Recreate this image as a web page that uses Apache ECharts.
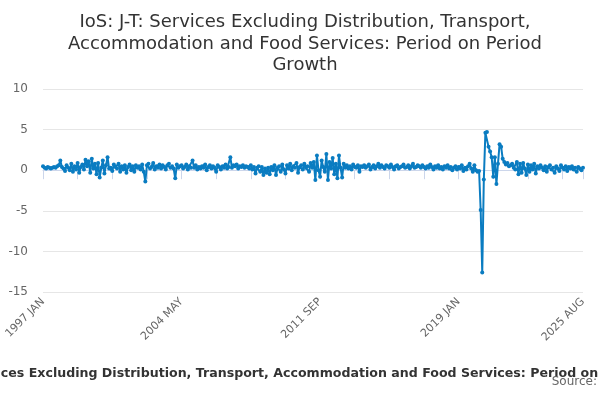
<!DOCTYPE html>
<html>
<head>
<meta charset="utf-8">
<script src="https://cdn.jsdelivr.net/npm/echarts@6/dist/echarts.min.js"></script>
<style>
  html, body { margin: 0; padding: 0; background: #fff; }
  #chart { width: 600px; height: 400px; }
</style>
</head>
<body>
<div id="chart"></div>
<script>
// 数据
var titleText = 'IoS: J-T: Services Excluding Distribution, Transport, Accommodation and Food Services: Period on Period Growth';
var years = [1997, 1998, 1999, 2000, 2001, 2002, 2003, 2004, 2005, 2006, 2007, 2008, 2009, 2010,
             2011, 2012, 2013, 2014, 2015, 2016, 2017, 2018, 2019, 2020, 2021, 2022, 2023, 2024, 2025];
var months = ['JAN', 'FEB', 'MAR', 'APR', 'MAY', 'JUN', 'JUL', 'AUG', 'SEP', 'OCT', 'NOV', 'DEC'];
var lastMonthCount = 8; // 2025 runs to AUG
var yTicks = [-15, -10, -5, 0, 5, 10];

var growth = [
  0.5, 0.3, 0.2, 0.4, 0.3, 0.2, 0.3, 0.4, 0.3, 0.5, 0.6, 1.2,       // 1997
  0.4, 0.2, -0.1, 0.6, 0.3, 0.0, 0.8, -0.2, 0.5, 0.1, 0.9, -0.3,    // 1998
  0.4, 0.7, 0.1, 1.3, 0.5, 1.1, -0.3, 1.4, 0.2, 0.8, -0.5, 0.9,     // 1999
  -0.9, 0.3, 1.2, -0.4, 0.6, 1.6, 0.2, 0.3, -0.1, 0.7, 0.4, 0.2,    // 2000
  0.8, -0.2, 0.5, 0.1, 0.6, -0.3, 0.4, 0.7, 0.0, 0.5, -0.2, 0.6,    // 2001
  0.3, 0.5, 0.1, 0.7, -0.2, -1.4, 0.6, 0.8, 0.2, 0.4, 0.9, 0.1,     // 2002
  0.5, 0.3, 0.7, 0.2, 0.6, 0.4, 0.1, 0.6, 0.8, 0.3, 0.5, 0.2,       // 2003
  -1.0, 0.7, 0.3, 0.5, 0.6, 0.2, 0.4, 0.7, 0.1, 0.5, 0.3, 1.2,      // 2004
  0.3, 0.6, 0.1, 0.4, 0.2, 0.5, 0.3, 0.7, 0.0, 0.4, 0.6, 0.2,       // 2005
  0.5, 0.3, -0.2, 0.6, 0.4, 0.1, 0.5, 0.3, 0.7, 0.2, 0.4, 1.6,      // 2006
  0.3, 0.6, 0.5, 0.7, 0.2, 0.5, 0.4, 0.6, 0.3, 0.5, 0.4, 0.2,       // 2007
  0.6, 0.1, 0.4, -0.4, 0.3, 0.5, -0.2, 0.4, -0.6, 0.2, -0.3, 0.3,   // 2008
  -0.5, 0.4, 0.0, 0.6, -0.6, 0.3, 0.5, -0.2, 0.7, 0.1, -0.4, 0.6,   // 2009
  0.2, 0.8, 0.0, 0.5, 0.3, 0.9, -0.3, 0.4, 0.6, 0.1, 0.8, 0.3,      // 2010
  0.5, -0.2, 0.9, 0.3, 1.0, -1.2, 1.8, 0.0, -0.8, 1.2, 0.4, -0.2,   // 2011
  2.0, -1.2, 1.0, 0.2, 1.5, -0.5, 0.8, -1.0, 1.8, 0.3, -0.9, 0.8,   // 2012
  0.3, 0.6, 0.2, 0.5, 0.1, 0.7, 0.4, 0.3, 0.6, -0.2, 0.5, 0.4,      // 2013
  0.6, 0.3, 0.5, 0.7, 0.1, 0.4, 0.6, 0.2, 0.5, 0.8, 0.3, 0.6,       // 2014
  0.4, 0.2, 0.6, 0.5, 0.3, 0.7, 0.4, 0.1, 0.5, 0.6, 0.2, 0.4,       // 2015
  0.5, 0.7, 0.3, 0.4, 0.6, 0.2, 0.5, 0.8, 0.3, 0.4, 0.6, 0.5,       // 2016
  0.3, 0.6, 0.4, 0.2, 0.5, 0.3, 0.7, 0.4, 0.1, 0.5, 0.3, 0.6,       // 2017
  0.2, 0.4, 0.1, 0.5, 0.3, 0.6, 0.2, 0.4, 0.0, 0.3, 0.5, 0.1,       // 2018
  0.4, 0.2, 0.6, -0.1, 0.3, 0.1, 0.5, 0.8, 0.2, -0.2, 0.6, 0.0,     // 2019
  -0.2, -0.1, -4.9, -12.6, -1.15, 4.6, 4.7, 2.9, 2.3, 1.6, -0.8, 1.6, // 2020
  -1.7, 0.8, 3.2, 2.9, 1.4, 1.0, 0.7, 0.9, 0.5, 0.6, 0.8, 0.3,      // 2021
  0.1, 1.0, -0.5, 0.8, -0.3, 0.9, 0.2, -0.6, 0.7, -0.2, 0.6, 0.1,   // 2022
  0.8, -0.4, 0.5, 0.2, 0.6, 0.3, 0.0, 0.5, -0.2, 0.4, 0.6, 0.1,     // 2023
  0.3, -0.3, 0.5, 0.2, -0.1, 0.6, 0.3, 0.1, 0.5, -0.1, 0.4, 0.2,    // 2024
  0.5, 0.1, 0.3, -0.2, 0.4, 0.2, 0.0, 0.3                           // 2025
];

var categories = [];
years.forEach(function (y, i) {
    var n = (i === years.length - 1) ? lastMonthCount : 12;
    for (var m = 0; m < n; m++) {
        categories.push(y + ' ' + months[m]);
    }
});
var lastIndex = categories.length - 1;

(function () {
    var myChart = echarts.init(document.getElementById('chart'));
    var font = 'DejaVu Sans, sans-serif';
    var option = {
        animation: false,
        title: {
            text: 'IoS: J-T: Services Excluding Distribution, Transport,\nAccommodation and Food Services: Period on Period\nGrowth',
            left: 300,
            top: 7,
            textAlign: 'center',
            textStyle: {
                fontFamily: font,
                fontSize: 18,
                fontWeight: 'normal',
                color: '#333',
                lineHeight: 21.5
            }
        },
        grid: {
            left: 43,
            right: 17,
            top: 89,
            bottom: 108
        },
        xAxis: {
            type: 'category',
            data: categories,
            boundaryGap: false,
            axisLine: { lineStyle: { color: '#ccd6eb', width: 1 } },
            axisTick: {
                length: 9,
                lineStyle: { color: '#ccd6eb' },
                interval: function (idx) { return idx % 22 === 0 || idx === lastIndex; }
            },
            axisLabel: {
                rotate: 45,
                color: '#666',
                fontFamily: font,
                fontSize: 11,
                margin: 8,
                interval: function (idx) { return idx % 88 === 0 || idx === lastIndex; }
            },
            splitLine: { show: false }
        },
        yAxis: {
            type: 'value',
            min: yTicks[0],
            max: yTicks[yTicks.length - 1],
            interval: 5,
            axisLine: { show: false },
            axisTick: { show: false },
            axisLabel: {
                color: '#666',
                fontFamily: font,
                fontSize: 12,
                margin: 15
            },
            splitLine: { lineStyle: { color: '#e6e6e6', width: 1 } }
        },
        graphic: [
            {
                type: 'text',
                x: 306,
                y: 374,
                style: {
                    text: titleText,
                    fontFamily: font,
                    fontSize: 12.6,
                    fontWeight: 'bold',
                    fill: '#333',
                    align: 'center',
                    verticalAlign: 'middle'
                }
            },
            {
                type: 'text',
                x: 597,
                y: 382,
                style: {
                    text: 'Source:',
                    fontFamily: font,
                    fontSize: 12,
                    fill: '#666',
                    align: 'right',
                    verticalAlign: 'middle'
                }
            }
        ],
        series: [
            {
                name: titleText,
                type: 'line',
                data: growth,
                showAllSymbol: true,
                symbol: 'circle',
                symbolSize: 4,
                lineStyle: { color: '#0a7cc1', width: 2 },
                itemStyle: { color: '#0a7cc1' }
            }
        ]
    };
    myChart.setOption(option);
})();
</script>
</body>
</html>
